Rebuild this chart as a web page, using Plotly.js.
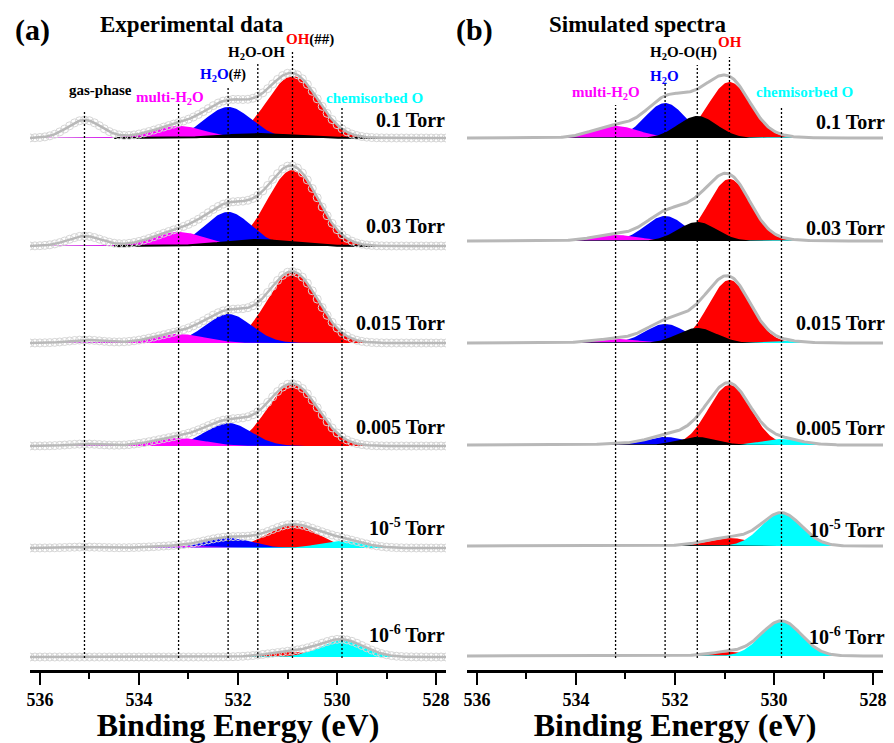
<!DOCTYPE html>
<html><head><meta charset="utf-8">
<script src="https://cdn.plot.ly/plotly-3.0.1.min.js"></script>
<style>html,body{margin:0;padding:0;background:#fff}#chart{width:894px;height:743px}</style>
</head><body><div id="chart"></div>
<script>
// ---------------- DATA ----------------
const pressureLabels = ["0.1 Torr", "0.03 Torr", "0.015 Torr", "0.005 Torr", "10<sup>-5</sup> Torr", "10<sup>-6</sup> Torr"];
const tickValues = [536, 534, 532, 530, 528];

// Panel (a) experimental fit components: [gas, multi-H2O, H2O, H2O-OH, OH, chemisorbed O]
const expCenters = [535.1, 533.2, 532.2, 531.6, 530.9, 529.9];   // eV
const expFwhm    = [0.8, 1.25, 1.1, 1.6, 1.2, 1.05];             // eV
const expGas   = [18, 10, 3, 2, 1, 0];
const expMulti = [12, 14, 9, 8, 2, 0];
const expH2O   = [31, 34, 29, 23, 10, 0];
const expH2OOH = [4, 6, 0, 0, 0, 0];
const expOH    = [62, 76, 71, 62, 23, 5];
const expChem  = [0, 0, 0, 0, 7, 17];
const expBlackWindow = [534.5, 528.9];  // eV range of black component trace

// Panel (b) simulated components: [multi-H2O, H2O, H2O-O(H), OH, chemisorbed O]
const simCenters = [533.2, 532.2, 531.55, 530.9, 529.85];
const simFwhm    = [1.1, 0.95, 0.92, 1.0, 0.95];
const simMulti = [12, 6, 4, 1, 0, 0];
const simH2O   = [35, 25, 19, 8, 0, 0];
const simH2OO  = [22, 19, 15, 8, 1, 0];
const simOH    = [56, 62, 63, 60, 8, 4];
const simChem  = [1, 1, 2, 6, 33, 35];

// ---------------- LAYOUT / STYLE ----------------
const W = 894, H = 743, AXY = 670;
const xRange = [536.2, 527.8];
const offsetsA = [532, 424, 327, 224, 122, 13];
const offsetsB = [532, 429, 327, 225, 124, 14];
const lineTopsA = [560, 567, 582, 607, 618, 563];
const lineTopsB = [565, 588, 605, 613, 564];
const lineBottom = 12;
const C = {red:'#ff0000', blue:'#0000ff', mag:'#ff00ff', cyan:'#00ffff', black:'#000000', env:'#b8b8b8', dots:'#d6d6d6'};
const FONT = 'Liberation Serif, Times New Roman, serif';

function gauss(x, c, h, f) { return h * Math.exp(-4 * Math.LN2 * (x - c) * (x - c) / (f * f)); }
const grid = [];
for (let i = 0; i <= 420; i++) grid.push(+(536.2 - i * 0.02).toFixed(3));
const gridCoarse = [];
for (let i = 0; i <= 84; i++) gridCoarse.push(+(536.2 - i * 0.1).toFixed(3));

const traces = [];
function fillTrace(xa, ya, xs, base, c, h, f, color, lw) {
  const X = [xs[0]], Y = [base];
  xs.forEach(x => { X.push(x); Y.push(base + gauss(x, c, h, f)); });
  X.push(xs[xs.length - 1]); Y.push(base);
  traces.push({x: X, y: Y, xaxis: xa, yaxis: ya, type: 'scatter', mode: 'lines', fill: 'toself',
    fillcolor: color, line: {color: color, width: lw || 0}, hoverinfo: 'skip'});
}

// Panel (a)
for (let s = 0; s < 6; s++) {
  const b = offsetsA[s];
  const comps = [
    [4, expOH[s], C.red], [2, expH2O[s], C.blue], [1, expMulti[s], C.mag], [5, expChem[s], C.cyan]
  ];
  comps.forEach(([k, h, col]) => { if (h > 0) fillTrace('x', 'y', grid, b, expCenters[k], h, expFwhm[k], col); });
  if (expH2OOH[s] > 0) {
    const xs = grid.filter(x => x <= expBlackWindow[0] && x >= expBlackWindow[1]);
    fillTrace('x', 'y', xs, b, expCenters[3], expH2OOH[s], expFwhm[3], C.black, 2);
  }
  const heights = [expGas[s], expMulti[s], expH2O[s], expH2OOH[s], expOH[s], expChem[s]];
  const env = xs => xs.map(x => b + heights.reduce((a, h, k) => a + gauss(x, expCenters[k], h, expFwhm[k]), 0));
  traces.push({x: gridCoarse, y: env(gridCoarse), xaxis: 'x', yaxis: 'y', type: 'scatter', mode: 'markers',
    marker: {symbol: 'circle-open', size: 8, color: C.dots, line: {width: 1}}, hoverinfo: 'skip'});
  traces.push({x: grid, y: env(grid), xaxis: 'x', yaxis: 'y', type: 'scatter', mode: 'lines',
    line: {color: C.env, width: 2.5}, hoverinfo: 'skip'});
}
// Panel (b)
for (let s = 0; s < 6; s++) {
  const b = offsetsB[s];
  const heights = [simMulti[s], simH2O[s], simH2OO[s], simOH[s], simChem[s]];
  const comps = [[3, C.red], [1, C.blue], [0, C.mag], [4, C.cyan], [2, C.black]];
  comps.forEach(([k, col]) => { if (heights[k] > 0) fillTrace('x2', 'y2', grid, b, simCenters[k], heights[k], simFwhm[k], col); });
  const env = grid.map(x => b + heights.reduce((a, h, k) => a + gauss(x, simCenters[k], h, simFwhm[k]), 0));
  traces.push({x: grid, y: env, xaxis: 'x2', yaxis: 'y2', type: 'scatter', mode: 'lines',
    line: {color: C.env, width: 3}, hoverinfo: 'skip'});
}
// dotted reference lines
expCenters.forEach((c, k) => traces.push({x: [c, c], y: [lineBottom, lineTopsA[k]], xaxis: 'x', yaxis: 'y',
  type: 'scatter', mode: 'lines', line: {color: '#000', width: 1.3, dash: '2px,2px'}, hoverinfo: 'skip'}));
simCenters.forEach((c, k) => traces.push({x: [c, c], y: [lineBottom, lineTopsB[k]], xaxis: 'x2', yaxis: 'y2',
  type: 'scatter', mode: 'lines', line: {color: '#000', width: 1.3, dash: '2px,2px'}, hoverinfo: 'skip'}));

// ---------------- ANNOTATIONS ----------------
const ann = [];
function A(text, xp, yp, size, color, xanchor) {
  ann.push({text: '<b>' + text + '</b>', x: xp / W, y: (AXY - yp) / AXY, xref: 'paper', yref: 'paper',
    xanchor: xanchor || 'center', yanchor: 'middle', showarrow: false,
    font: {family: FONT, size: size, color: color || '#000'}});
}
A('(a)', 32, 30, 30); A('Experimental data', 192, 24, 23);
A('(b)', 474, 30, 30); A('Simulated spectra', 637, 24, 23);
A('<span style="color:#ff0000">OH</span>(##)', 310, 40, 15);
A('H<sub>2</sub>O-OH', 256, 53, 15);
A('<span style="color:#0000ff">H<sub>2</sub>O</span>(#)', 223, 75, 15);
A('gas-phase', 100, 90, 15);
A('multi-H<sub>2</sub>O', 170, 98, 15, C.mag);
A('chemisorbed O', 374, 98, 15, C.cyan);
A('OH', 730, 42, 15, C.red);
A('H<sub>2</sub>O-O(H)', 683, 53, 15);
A('H<sub>2</sub>O', 664, 77, 15, C.blue);
A('multi-H<sub>2</sub>O', 606, 93, 15, C.mag);
A('chemisorbed O', 804, 92, 15, C.cyan);
const labYA = [120, 226, 323, 427, 527, 634], labYB = [122, 228, 323, 428, 529, 636];
pressureLabels.forEach((t, i) => { A(t, 447, labYA[i], 20, '#000', 'right'); A(t, 887, labYB[i], 20, '#000', 'right'); });

// ---------------- AXES ----------------
function xax(domain) {
  return {domain: domain, range: xRange, anchor: domain[0] < 0.5 ? 'y' : 'y2', showgrid: false, zeroline: false,
    showline: true, linecolor: '#000', linewidth: 2.5, ticks: 'outside', ticklen: 12, tickwidth: 2, tickcolor: '#000',
    tickvals: tickValues, ticktext: tickValues.map(String),
    minor: {dtick: 1, ticks: 'outside', ticklen: 6, tickwidth: 2, tickcolor: '#000'},
    tickfont: {family: FONT, size: 18, color: '#000', weight: 'bold'},
    title: {text: '<b>Binding Energy (eV)</b>', font: {family: FONT, size: 32, color: '#000'}, standoff: 10},
    fixedrange: true};
}
const yax = a => ({domain: [0, 1], range: [0, AXY], visible: false, anchor: a, fixedrange: true});
const layout = {
  width: W, height: H, margin: {l: 0, r: 0, t: 0, b: H - AXY}, paper_bgcolor: '#fff', plot_bgcolor: 'rgba(0,0,0,0)',
  showlegend: false,
  xaxis: xax([30 / W, 446 / W]), xaxis2: xax([467 / W, 883 / W]),
  yaxis: yax('x'), yaxis2: yax('x2'),
  annotations: ann
};
Plotly.newPlot('chart', traces, layout, {staticPlot: true, displayModeBar: false});
</script></body></html>
